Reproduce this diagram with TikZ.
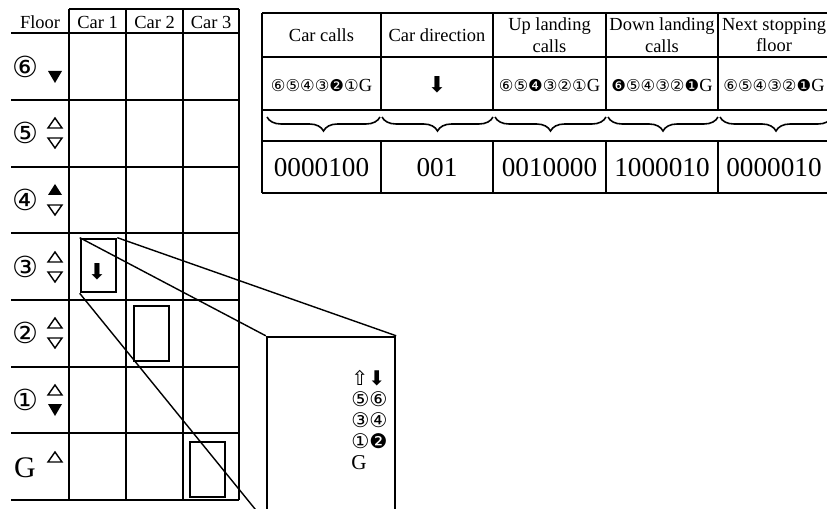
\documentclass[tikz,border=0pt]{standalone}
\usepackage{fontspec}
\setmainfont{Liberation Serif}
\newfontfamily\symfont{DejaVu Sans}
\usepackage{tikz}
\usetikzlibrary{positioning, decorations.pathreplacing}

\begin{document}
\begin{tikzpicture}[
  x=0.02cm, y=-0.02cm,
  grid/.style={line width=1.4pt},
  cabin/.style={draw, line width=1.5pt, minimum width=0.7cm, minimum height=1.08cm, inner sep=0pt},
  hdr/.style={font=\fontsize{10.5}{12.5}\selectfont, align=center, inner sep=0pt},
  flr/.style={font=\symfont\fontsize{16.5}{16.5}\selectfont, inner sep=0pt},
  code/.style={font=\symfont\fontsize{9.3}{12}\selectfont, inner sep=0pt},
  arw/.style={font=\symfont\fontsize{12.5}{13}\selectfont, inner sep=0pt},
  bits/.style={font=\fontsize{15.5}{16}\selectfont, inner sep=0pt},
  zoomln/.style={line width=0.8pt},
  ubrace/.style={decorate, decoration={brace, mirror, amplitude=0.28cm}, line width=0.9pt},
  upO/.pic={\draw[line width=0.8pt] (-7,5) -- (7,5) -- (0,-5) -- cycle;},
  upF/.pic={\fill (-7,5) -- (7,5) -- (0,-6) -- cycle;},
  dnO/.pic={\draw[line width=0.8pt] (-7,-5) -- (7,-5) -- (0,5) -- cycle;},
  dnF/.pic={\fill (-7,-6) -- (7,-6) -- (0,6) -- cycle;},
]
\useasboundingbox (0,0) rectangle (827,509);
\clip (0,0) rectangle (827,509);

% ---------------- Left table: floors x cars ----------------
\foreach \y in {33,100,167,233,300,367,433,500}
  \draw[grid] (11,\y) -- (239,\y);
\draw[grid] (69,9) -- (239,9);
\foreach \x in {69,126,183,239}
  \draw[grid] (\x,9) -- (\x,500);

\node[hdr] (hfloor) at (40,22) {Floor};
\node[hdr] (hcar1)  at (97.5,22) {Car 1};
\node[hdr] (hcar2)  at (154.5,22) {Car 2};
\node[hdr] (hcar3)  at (211,22) {Car 3};

% floor labels and landing buttons
\node[flr] (f6) at (25,67)  {⑥}; \pic at (55,77)  {dnF};
\node[flr] (f5) at (25,133) {⑤}; \pic at (55,123) {upO}; \pic at (55,143) {dnO};
\node[flr] (f4) at (25,200) {④}; \pic at (55,190) {upF}; \pic at (55,210) {dnO};
\node[flr] (f3) at (25,267) {③}; \pic at (55,257) {upO}; \pic at (55,277) {dnO};
\node[flr] (f2) at (25,333) {②}; \pic at (55,323) {upO}; \pic at (55,343) {dnO};
\node[flr] (f1) at (25,400) {①}; \pic at (55,390) {upO}; \pic at (55,410) {dnF};
\node[font=\fontsize{17}{17}\selectfont, inner sep=0pt] (fG) at (25,468) {G}; \pic at (55,457) {upO};

% cars
\node[cabin, minimum height=1.06cm] (car1) at (98.5,265.5) {};
\node[arw] (car1dir) at (97,272) {⬇};
\node[cabin, minimum height=1.1cm] (car2) at (151.5,333.5) {};
\node[cabin, minimum height=1.1cm] (car3) at (207.5,469.5) {};

% ---------------- Zoomed car panel ----------------
\node[draw, line width=1.4pt, minimum width=2.56cm, minimum height=3.68cm, inner sep=0pt] (panel) at (331,429) {};
\node[code, font=\symfont\fontsize{11.5}{12}\selectfont, align=left, anchor=west] (keys) at (351,420)
  {⇧⬇\\⑤⑥\\③④\\①❷\\{\rmfamily\fontsize{12}{12}\selectfont G}};
\draw[zoomln] (car1.north east) -- (panel.north east);
\draw[zoomln] (car1.north west) -- (panel.north west);
\draw[zoomln] (car1.south west) -- (panel.south west);

% ---------------- Right table: car state encoding ----------------
\foreach \y in {13,57,110,141,193}
  \draw[grid] (262,\y) -- (832,\y);
\draw[grid] (262,13) -- (262,193);
\foreach \x in {381,493,606,718} {
  \draw[grid] (\x,13) -- (\x,110);
  \draw[grid] (\x,141) -- (\x,193);
}

\node[hdr] (hcalls) at (321.5,35) {Car calls};
\node[hdr] (hdir)   at (437,35)   {Car direction};
\node[hdr] (hup)    at (549.5,35) {Up landing\\calls};
\node[hdr] (hdown)  at (662,35)   {Down landing\\calls};
\node[hdr] (hnext)  at (774,35)   {Next stopping\\floor};

\node[code] (scalls) at (321.5,85) {⑥⑤④③❷①{\rmfamily\fontsize{10.5}{12}\selectfont G}};
\node[arw]  (sdir)   at (437,85)   {⬇};
\node[code] (sup)    at (549.5,85) {⑥⑤❹③②①{\rmfamily\fontsize{10.5}{12}\selectfont G}};
\node[code] (sdown)  at (662,85)   {❻⑤④③②❶{\rmfamily\fontsize{10.5}{12}\selectfont G}};
\node[code] (snext)  at (774,85)   {⑥⑤④③②❶{\rmfamily\fontsize{10.5}{12}\selectfont G}};

\foreach \a/\b in {267/380, 382/493, 495/606, 608/718, 720/832}
  \draw[ubrace] (\a,117) -- (\b,117);

\node[bits] (bcalls) at (321.5,168) {0000100};
\node[bits] (bdir)   at (437,168)   {001};
\node[bits] (bup)    at (549.5,168) {0010000};
\node[bits] (bdown)  at (662,168)   {1000010};
\node[bits] (bnext)  at (774,168)   {0000010};
\end{tikzpicture}
\end{document}
